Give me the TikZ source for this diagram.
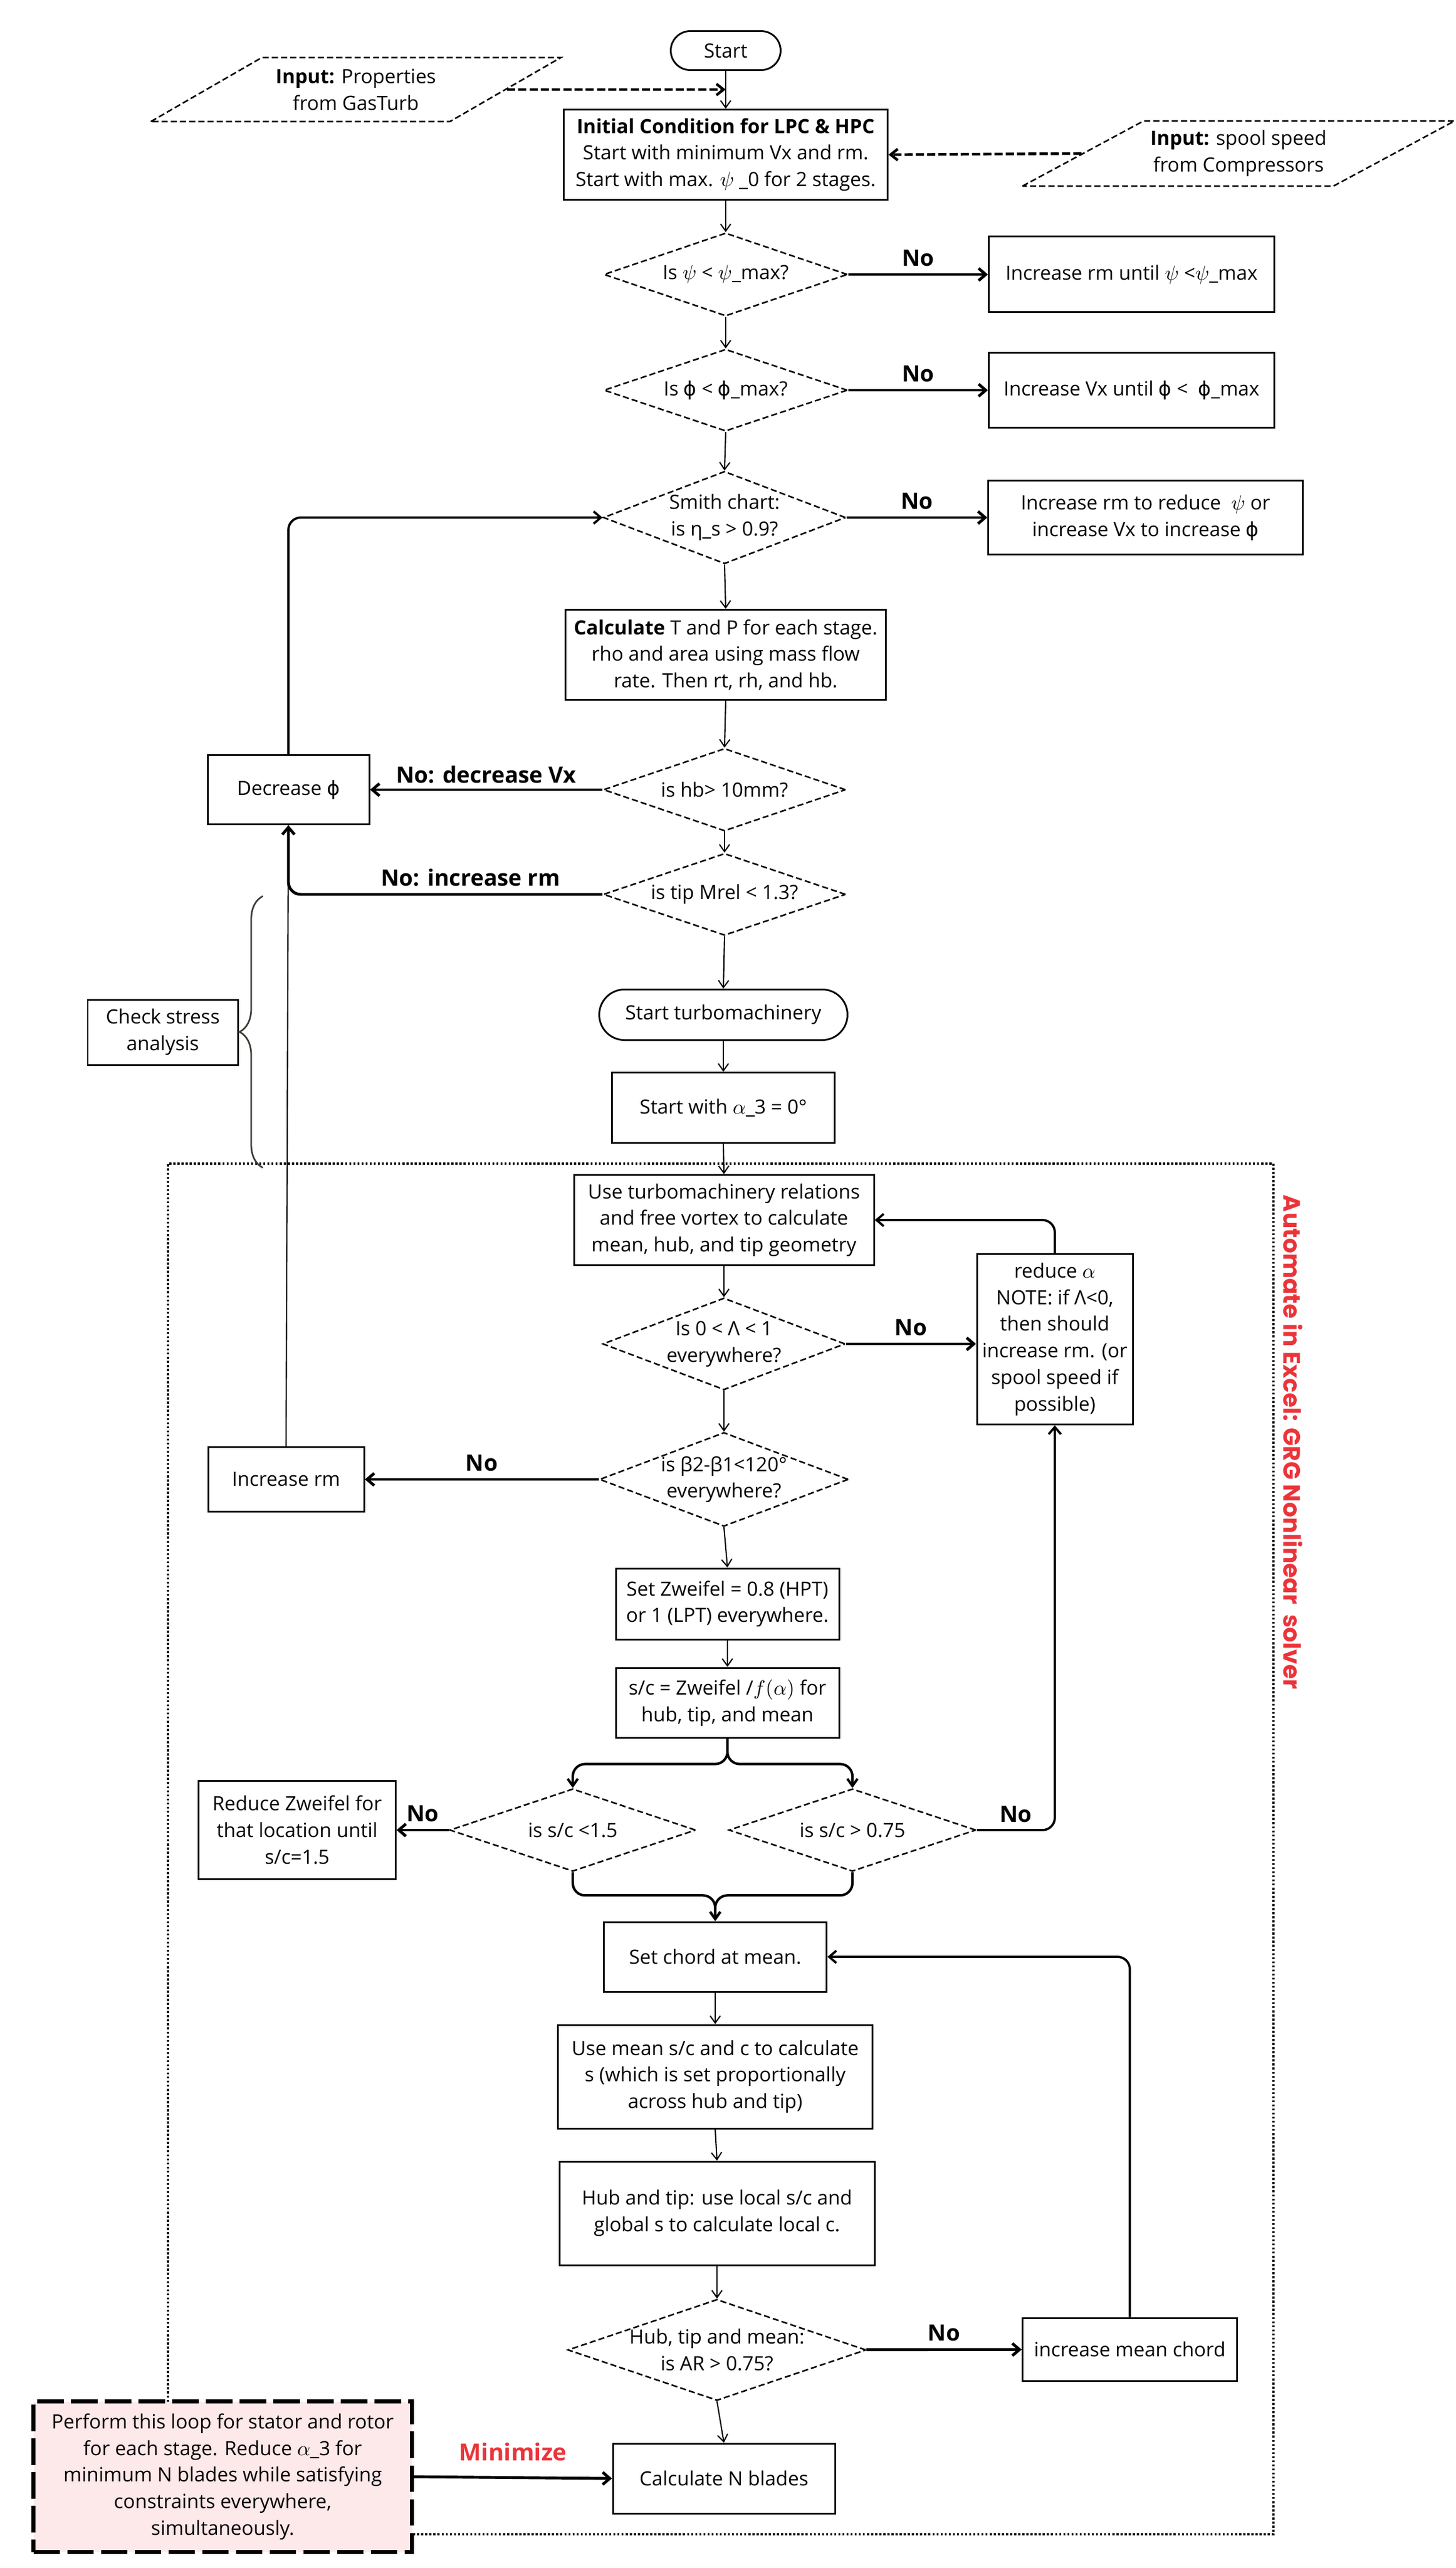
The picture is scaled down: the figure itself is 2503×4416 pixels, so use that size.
\documentclass[tikz,border=0pt]{standalone}
\usepackage{fontspec}
\setmainfont{Open Sans}
\newfontfamily\symfont{DejaVu Sans}
\newfontfamily\titlefont{Poppins}
\usetikzlibrary{shapes.geometric, shapes.misc, arrows.meta, decorations.pathreplacing}
\definecolor{alertred}{RGB}{235, 52, 58}
\definecolor{notepink}{RGB}{253, 232, 234}
\definecolor{bracegray}{RGB}{58, 62, 52}
\newdimen\px \px=0.01cm
\newcommand{\vphi}{{\symfont ϕ}}
\newcommand{\bodyfont}{\fontsize{9.6}{13}\selectfont}
\tikzset{
  sz/.style 2 args={minimum width=#1\px, minimum height=#2\px},
  dsz/.style n args={3}{minimum width=#1\px, minimum height=#2\px, aspect=#3},
  proc/.style={draw, line width=0.85pt, align=center, font=\bodyfont, inner sep=2pt},
  term/.style={proc, rounded rectangle},
  decide/.style={diamond, draw, line width=0.75pt, dash pattern=on 3pt off 1.5pt, align=center, font=\bodyfont, inner sep=0pt},
  inputbox/.style={trapezium, trapezium left angle=26.3, trapezium right angle=153.7, trapezium stretches body, draw, line width=0.75pt, dash pattern=on 3pt off 1.5pt, align=center, font=\bodyfont},
  note/.style={proc, line width=2pt, dash pattern=on 13pt off 3.5pt, fill=notepink},
  flow/.style={line width=0.6pt, -{Straight Barb[length=3.5pt, width=5pt]}},
  inflow/.style={line width=1.3pt, dash pattern=on 4pt off 1.5pt, -{Straight Barb[length=3.5pt, width=5.5pt]}},
  noflow/.style={line width=1.4pt, -{Straight Barb[length=3.5pt, width=6pt]}},
  loopflow/.style={line width=1.1pt, rounded corners=6pt, -{Straight Barb[length=3.5pt, width=6pt]}},
  splitflow/.style={line width=1.2pt, rounded corners=6pt, -{Straight Barb[length=3.5pt, width=5pt]}},
  frame/.style={line width=1pt, dash pattern=on 1pt off 1pt},
  nolabel/.style={font=\fontsize{11}{13}\selectfont\bfseries, above},
  minlabel/.style={font=\fontsize{11.5}{13}\selectfont\bfseries, text=alertred, above=4pt},
  exceltitle/.style={font=\titlefont\fontsize{11.6}{13}\selectfont\bfseries, text=alertred},
  stressbrace/.style={draw=bracegray, line width=0.8pt, decorate, decoration={brace, amplitude=0.4cm}}
}

\begin{document}
\begin{tikzpicture}[x=0.01cm, y=-0.01cm]
\path[use as bounding box, fill=white] (0,0) rectangle (2503,4416);

% nodes
\node[term, sz={203}{67}] (start) at (1248,87) {Start};
\node[inputbox, sz={705}{110}] (inL) at (612,154) {\textbf{Input:} Properties\\from GasTurb};
\node[proc, sz={557}{155}] (init) at (1248,266) {\textbf{Initial Condition for LPC \& HPC}\\Start with minimum Vx and rm.\\Start with max. $\psi$ \_0 for 2 stages.};
\node[inputbox, sz={706}{112}] (inR) at (2130,264) {\textbf{Input:} spool speed\\from Compressors};
\node[decide, dsz={419}{143}{2.93}] (psi) at (1248,472) {Is $\psi$ < $\psi$\_max?};
\node[proc, sz={491}{130}] (incpsi) at (1946,472) {Increase rm until $\psi$ <$\psi$\_max};
\node[decide, dsz={419}{141}{2.97}] (phi) at (1248,671) {Is \vphi{} < \vphi\_max?};
\node[proc, sz={491}{129}] (incphi) at (1946,671) {Increase Vx until \vphi{} < \ \vphi\_max};
\node[decide, dsz={417}{159}{2.62}] (smith) at (1246,890) {Smith chart:\\is η\_s > 0.9?};
\node[proc, sz={541}{127}] (incsmith) at (1970,890) {Increase rm to reduce \ $\psi$ or\\increase Vx to increase \vphi};
\node[proc, sz={551}{155}] (calc) at (1248,1126) {\textbf{Calculate} T and P for each stage.\\rho and area using mass flow\\rate. Then rt, rh, and hb.};
\node[decide, dsz={417}{142}{2.94}] (hb) at (1246,1358) {is hb> 10mm?};
\node[proc, sz={278}{119}] (decr) at (496,1358) {Decrease \vphi};
\node[decide, dsz={417}{141}{2.96}] (mrel) at (1246,1538) {is tip Mrel < 1.3?};
\node[term, sz={441}{87}] (startt) at (1244,1745) {Start turbomachinery};
\node[proc, sz={258}{112}] (stress) at (280,1775) {Check stress\\analysis};
\node[proc, sz={383}{121}] (alpha) at (1244,1905) {Start with $\alpha$\_3 = 0°};
\node[proc, sz={516}{155}] (geom) at (1245,2098) {Use turbomachinery relations\\and free vortex to calculate\\mean, hub, and tip geometry};
\node[proc, sz={268}{293}, inner xsep=1pt] (reduce) at (1814,2303) {reduce $\alpha$\\NOTE: if Λ<0,\\then should\\increase rm. (or\\spool speed if\\possible)};
\node[decide, dsz={417}{158}{2.64}] (react) at (1245,2311) {Is 0 < Λ < 1\\everywhere?};
\node[decide, dsz={421}{159}{2.65}] (turn) at (1245,2544) {is β2-β1<120°\\everywhere?};
\node[proc, sz={268}{111}] (incrm) at (492,2544) {Increase rm};
\node[proc, sz={384}{122}] (zw) at (1251,2758) {Set Zweifel = 0.8 (HPT)\\or 1 (LPT) everywhere.};
\node[proc, sz={384}{120}] (pitch) at (1251,2928) {s/c = Zweifel /$f(\alpha)$ for\\hub, tip, and mean};
\node[decide, dsz={423}{142}{2.98}] (scmax) at (985,3147) {is s/c <1.5};
\node[decide, dsz={425}{142}{2.99}] (scmin) at (1466,3147) {is s/c > 0.75};
\node[proc, sz={339}{169}] (redzw) at (511,3147) {Reduce Zweifel for\\that location until\\s/c=1.5};
\node[proc, sz={383}{120}] (chord) at (1230,3365) {Set chord at mean.};
\node[proc, sz={541}{178}] (spacing) at (1230,3571) {Use mean s/c and c to calculate\\s (which is set proportionally\\across hub and tip)};
\node[proc, sz={542}{178}] (local) at (1233,3806) {Hub and tip: use local s/c and\\global s to calculate local c.};
\node[decide, dsz={513}{174}{2.95}] (ar) at (1233,4041) {Hub, tip and mean:\\is AR > 0.75?};
\node[proc, sz={369}{108}] (incchord) at (1943,4040) {increase mean chord};
\node[proc, sz={382}{120}] (blades) at (1245,4262) {Calculate N blades};

% automation frame
\coordinate (fr-tl) at (289,2001);
\coordinate (fr-br) at (2190,4358);
\draw[frame] (fr-tl |- 0,4130) -- (fr-tl) -| (fr-br) -- (707,4358);
\node[note, sz={651}{259}] (loopnote) at (383,4259) {Perform this loop for stator and rotor\\for each stage. Reduce $\alpha$\_3 for\\minimum N blades while satisfying\\constraints everywhere,\\simultaneously.};
\node[exceltitle, rotate=-90] (excel) at (2224,2480) {Automate in Excel: GRG Nonlinear\ \ solver};

% stress brace
\coordinate (br-bot) at (452,2008);
\coordinate (br-top) at (452,1541);
\draw[stressbrace] (br-bot) -- (br-top);

% main column
\coordinate (jL) at (start.south |- inL.east);
\draw[flow] (start.south) -- (init.north);
\draw[inflow] (inL.east) -- (jL);
\draw[inflow] (inR.west) -- (init.east);
\draw[flow] (init.south) -- (psi.north);
\draw[flow] (psi.south) -- (phi.north);
\draw[flow] (phi.south) -- (smith.north);
\draw[flow] (smith.south) -- (calc.north);
\draw[flow] (calc.south) -- (hb.north);
\draw[flow] (hb.south) -- (mrel.north);
\draw[flow] (mrel.south) -- (startt.north);
\draw[flow] (startt.south) -- (alpha.north);
\draw[flow] (alpha.south) -- (geom.north);
\draw[flow] (geom.south) -- (react.north);
\draw[flow] (react.south) -- (turn.north);
\draw[flow] (turn.south) -- (zw.north);
\draw[flow] (zw.south) -- (pitch.north);
\draw[flow] (chord.south) -- (spacing.north);
\draw[flow] (spacing.south) -- (local.north);
\draw[flow] (local.south) -- (ar.north);
\draw[flow] (ar.south) -- (blades.north);

% split and merge
\draw[splitflow] (pitch.south) -- ++(0,44) -| (scmax.north);
\draw[splitflow] (pitch.south) -- ++(0,44) -| (scmin.north);
\draw[splitflow] (scmax.south) -- ++(0,40) -| (chord.north);
\draw[splitflow] (scmin.south) -- ++(0,40) -| (chord.north);

% no branches
\draw[noflow] (psi) -- node[nolabel] {No} (incpsi);
\draw[noflow] (phi) -- node[nolabel] {No} (incphi);
\draw[noflow] (smith) -- node[nolabel] {No} (incsmith);
\draw[noflow] (hb) -- node[nolabel, above=-1pt] {No: decrease Vx} (decr);
\draw[noflow, rounded corners=6pt] (mrel.west) -| node[nolabel, pos=0.21] {No: increase rm} (decr.south);
\draw[flow] (incrm.north) -- (decr.south);
\draw[loopflow] (decr.north) |- (smith.west);
\draw[noflow] (react) -- node[nolabel] {No} (react -| reduce.west);
\draw[loopflow] (reduce.north) |- (geom.east);
\draw[noflow] (turn) -- node[nolabel] {No} (incrm);
\draw[noflow] (scmax) -- node[nolabel] {No} (redzw);
\draw[loopflow] (scmin.east) -| node[nolabel, pos=0.25] {No} (reduce.south);
\draw[noflow] (ar) -- node[nolabel] {No} (incchord);
\draw[loopflow] (incchord.north) |- (chord.east);
\draw[noflow] (loopnote.east) -- node[minlabel] {Minimize} (blades.west);
\end{tikzpicture}
\end{document}
